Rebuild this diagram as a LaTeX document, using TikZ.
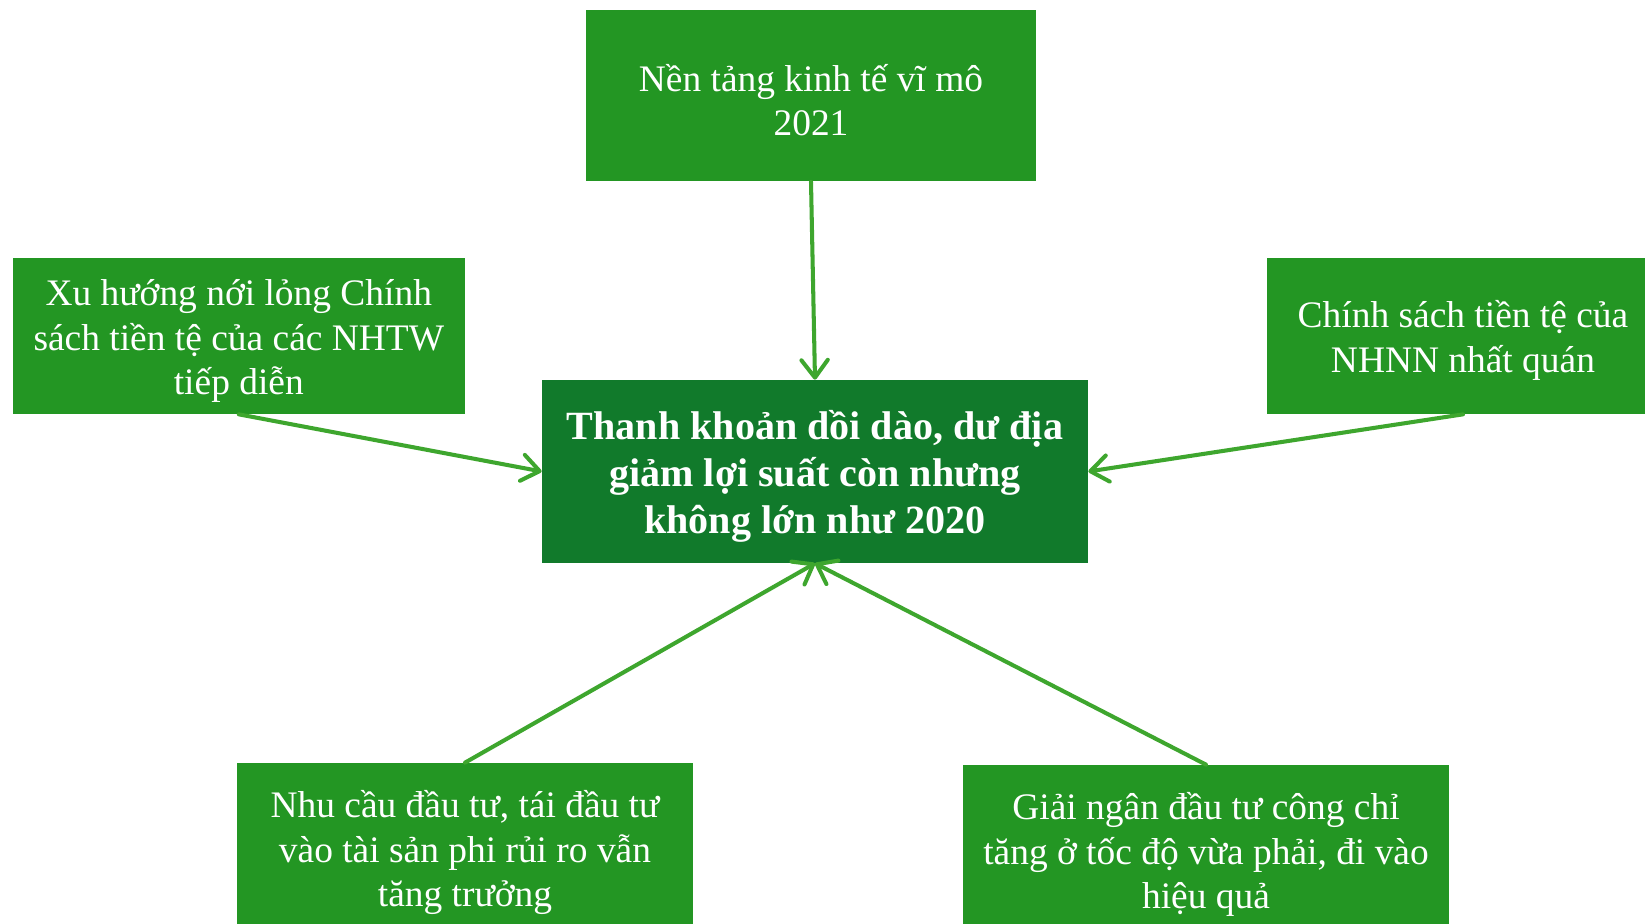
\documentclass[tikz,border=0pt]{standalone}
\usepackage{fontspec}
\setmainfont{Liberation Serif}
\usetikzlibrary{positioning, arrows.meta, shapes}
\definecolor{boxGreen}{RGB}{35,150,35}
\definecolor{darkGreen}{RGB}{17,122,43}
\definecolor{arrowGreen}{RGB}{62,166,46}
\newcommand{\topStrut}{\rule{0pt}{0.97em}}
\tikzstyle{greenRectangle} = [
    rectangle,
    fill=boxGreen,
    text=white,
    align=center,
    inner sep=0pt,
    font=\fontsize{21.3}{25.3}\selectfont
    ]
\tikzstyle{darkRectangle} = [
    rectangle,
    fill=darkGreen,
    text=white,
    align=center,
    inner sep=0pt,
    font=\fontsize{22.8}{27}\selectfont\bfseries
    ]
\tikzstyle{greenArrow} = [
    draw=arrowGreen,
    line width=2.3pt,
    line cap=round,
    -{Straight Barb[length=10pt, width=15pt, round]}
    ]

\begin{document}
\begin{tikzpicture}
      \clip (0,0) rectangle (32.9,18.48);
      \fill[white] (0,0) rectangle (32.9,18.48);
      \node[greenRectangle, minimum width=9cm, minimum height=3.43cm] at (16.22,16.565) (base) {\topStrut Nền tảng kinh tế vĩ mô\\2021};
      \node[greenRectangle, minimum width=9.05cm, minimum height=3.12cm] at (4.776,11.76) (easing) {\topStrut Xu hướng nới lỏng Chính\\sách tiền tệ của các NHTW\\tiếp diễn};
      \node[greenRectangle, minimum width=7.84cm, minimum height=3.12cm] at (29.26,11.76) (policy) {\topStrut Chính sách tiền tệ của\\NHNN nhất quán};
      \node[darkRectangle, minimum width=10.92cm, minimum height=3.66cm] at (16.3,9.05) (liquidity) {\topStrut Thanh khoản dồi dào, dư địa\\giảm lợi suất còn nhưng\\không lớn như 2020};
      \node[greenRectangle, minimum width=9.12cm, minimum height=3.4cm] at (9.3,1.52) (demand) {\topStrut Nhu cầu đầu tư, tái đầu tư\\vào tài sản phi rủi ro vẫn\\tăng trưởng};
      \node[greenRectangle, minimum width=9.72cm, minimum height=3.4cm] at (24.12,1.48) (disburse) {\topStrut Giải ngân đầu tư công chỉ\\tăng ở tốc độ vừa phải, đi vào\\hiệu quả};
      \draw[greenArrow] (base.south) -- (liquidity.north);
      \draw[greenArrow] (easing.south) -- (liquidity.west);
      \draw[greenArrow] (policy.south) -- (liquidity.east);
      \draw[greenArrow] (demand.north) -- (liquidity.south);
      \draw[greenArrow] (disburse.north) -- (liquidity.south);
    \end{tikzpicture}
\end{document}
